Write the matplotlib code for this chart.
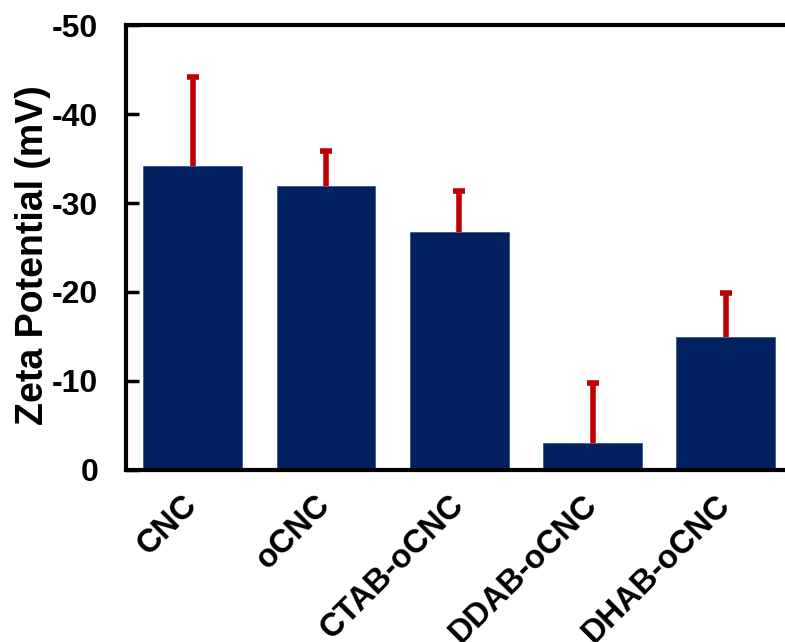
import matplotlib.pyplot as plt
import numpy as np

## Zeta potential of the samples (mV) and one-sided error
samples = ['CNC', 'oCNC', 'CTAB-oCNC', 'DDAB-oCNC', 'DHAB-oCNC']
zeta = [-34.2, -31.9, -26.7, -3.0, -14.9]
zeta_err = [10.0, 3.9, 4.7, 6.8, 5.0]
yticks = [0, -10, -20, -30, -40, -50]

plt.rcParams['font.family'] = ['Liberation Sans', 'DejaVu Sans']
plt.rcParams['font.weight'] = 'bold'

fig = plt.figure(figsize=(7.85, 6.42), dpi=100)
ax = fig.add_axes([0.1605, 0.268, 0.849, 0.693])

x = np.arange(len(samples))
ax.bar(x, zeta, width=0.74, color='#002060', edgecolor='#3a5a8c', linewidth=0.6, zorder=2)

## one-sided error: stem from bar top outward plus a cap at the tip
tips = np.array(zeta) - np.array(zeta_err)
ax.vlines(x, zeta, tips, color='#C00000', linewidth=4, zorder=1)
ax.plot(x, tips, linestyle='none', marker='_', markersize=9, markeredgewidth=4,
        color='#C00000', zorder=1)

ax.set_xlim(-0.5, len(samples) - 0.5)
ax.set_ylim(0, -50)
ax.set_yticks(yticks)
ax.set_yticklabels([str(t) for t in yticks])
ax.set_xticks(x)
ax.set_xticklabels(samples, rotation=45, ha='right', va='center', rotation_mode='anchor')
ax.tick_params(axis='y', direction='in', length=9, width=2.5, pad=20, labelsize=23)
ax.tick_params(axis='x', length=0, pad=22, labelsize=23.5)
for lab in ax.get_xticklabels() + ax.get_yticklabels():
    lab.set_fontweight('bold')
ax.set_ylabel('Zeta Potential (mV)', fontsize=27, fontweight='bold')
ax.yaxis.set_label_coords(-0.112, 0.483)

for s in ax.spines.values():
    s.set_linewidth(3)

fig.savefig('out.png', dpi=100)
